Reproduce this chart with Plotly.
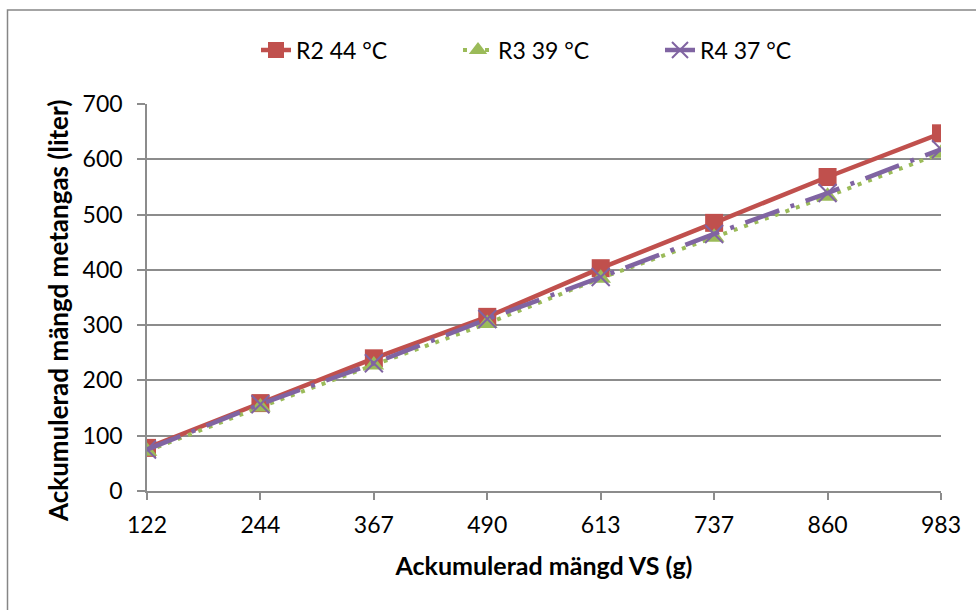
import plotly.graph_objects as go

# Accumulated VS fed (g) and accumulated methane (liter) per reactor
vs_labels = ["122", "244", "367", "490", "613", "737", "860", "983"]
r2_44 = [78, 159, 240, 315, 403, 485, 568, 647]
r3_39 = [72, 152, 228, 303, 385, 459, 533, 611]
r4_37 = [75, 157, 231, 311, 387, 465, 539, 618]

series_names = ["R2 44 °C", "R3 39 °C", "R4 37 °C"]

RED = "#C0504D"
GREEN = "#9BBB59"
PURPLE = "#8064A2"
GRID = "#8C8C8C"
FONT = "Lato"

fig = go.Figure()

fig.add_trace(go.Scatter(
    x=vs_labels, y=r2_44, name=series_names[0], mode="lines+markers",
    line=dict(color=RED, width=4.5),
    marker=dict(symbol="square", size=18, color=RED),
))
fig.add_trace(go.Scatter(
    x=vs_labels, y=r3_39, name=series_names[1], mode="lines+markers",
    line=dict(color=GREEN, width=4, dash="4px,7px"),
    marker=dict(symbol="triangle-up", size=18, color=GREEN),
))
fig.add_trace(go.Scatter(
    x=vs_labels, y=r4_37, name=series_names[2], mode="lines+markers",
    line=dict(color=PURPLE, width=4.5, dash="36px,12px,4px,12px"),
    marker=dict(symbol="x-thin", size=18, color=PURPLE,
                line=dict(color=PURPLE, width=2)),
))

L, R, T, B = 147, 35, 104, 119
W, H = 976, 610
pw, ph = W - L - R, H - T - B

# Outer chart frame
fig.add_shape(
    type="rect", xref="paper", yref="paper",
    x0=(7.5 - L) / pw, x1=(990 - L) / pw,
    y0=-(H + 10 - T - ph) / ph, y1=(T + ph - 10) / ph,
    line=dict(color="#868686", width=1.5), fillcolor="rgba(0,0,0,0)",
    layer="below",
)

# Vertical axis title
fig.add_annotation(
    text="<b>Ackumulerad mängd metangas (liter)</b>",
    xref="paper", yref="paper",
    x=(58 - L) / pw, y=(T + ph - 311) / ph,
    xanchor="center", yanchor="middle", textangle=-90, showarrow=False,
    font=dict(family=FONT, size=26, color="black"),
)

fig.update_layout(
    width=W, height=H,
    margin=dict(l=L, r=R, t=T, b=B),
    paper_bgcolor="white", plot_bgcolor="white",
    font=dict(family=FONT, size=22, color="black"),
    showlegend=True,
    legend=dict(
        orientation="h", x=(256 - L) / pw, xanchor="left",
        y=(T + ph - 50) / ph, yanchor="middle",
        font=dict(family=FONT, size=23, color="black"),
        entrywidth=157, entrywidthmode="pixels",
        bgcolor="rgba(0,0,0,0)",
    ),
    xaxis=dict(
        type="category", range=[0, 7],
        showgrid=False, showline=True, linecolor=GRID, linewidth=1.5,
        ticks="outside", ticklen=7, tickwidth=1.5, tickcolor=GRID,
        ticklabelstandoff=6,
        tickfont=dict(family=FONT, size=23),
        title=dict(text="<b>Ackumulerad mängd VS (g)</b>", standoff=20,
                   font=dict(family=FONT, size=25)),
    ),
    yaxis=dict(
        range=[0, 700], dtick=100,
        showgrid=True, gridcolor=GRID, gridwidth=1.5,
        showline=True, linecolor=GRID, linewidth=1.5,
        ticks="outside", ticklen=8, tickwidth=1.5, tickcolor=GRID,
        ticklabelstandoff=10,
        tickfont=dict(family=FONT, size=23),
        zeroline=False,
    ),
)

fig.write_html("out.html")
